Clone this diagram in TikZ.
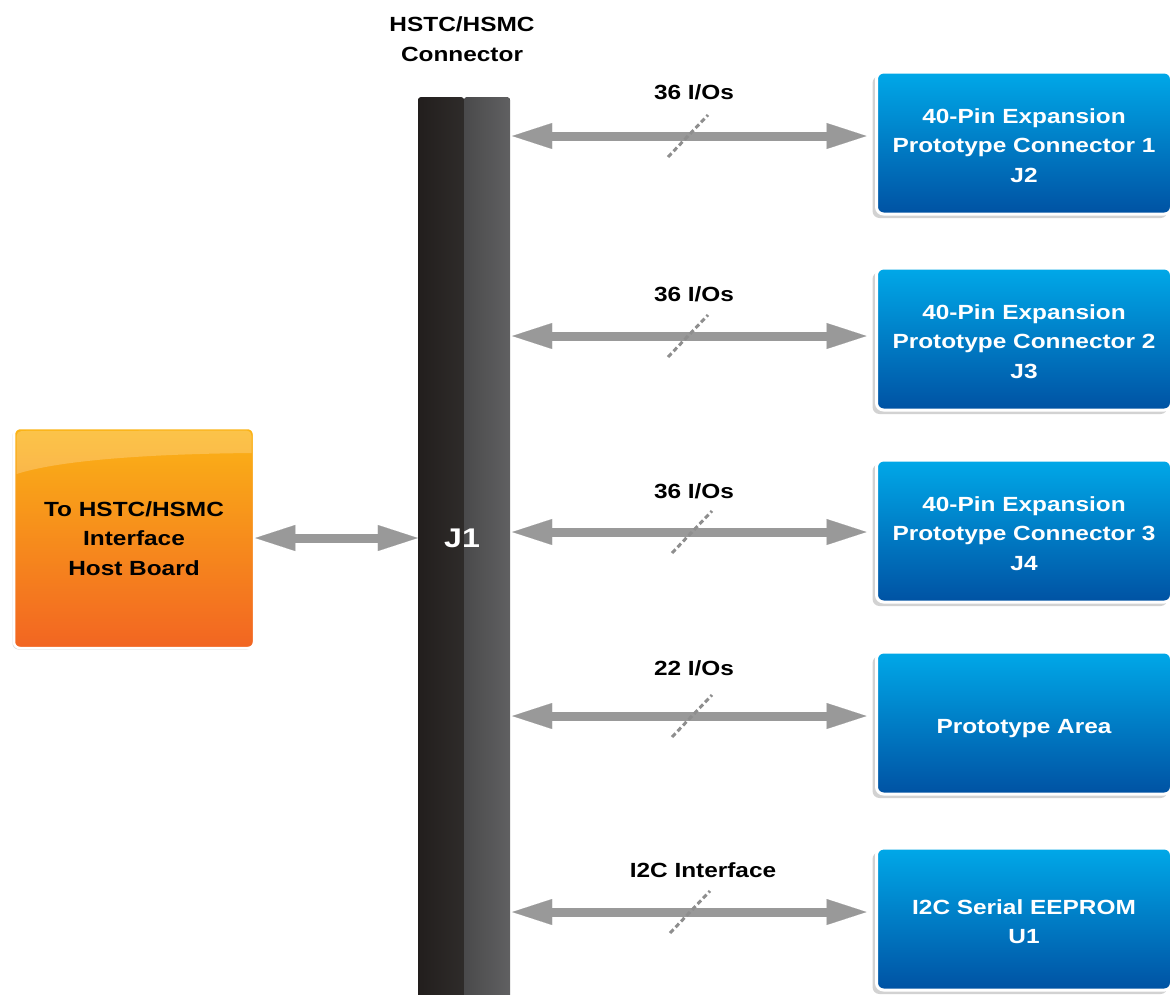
\documentclass[tikz,border=0pt]{standalone}
\usepackage{fontspec}
\setmainfont{Liberation Sans}[FakeStretch=1.19]
\usetikzlibrary{arrows.meta,shadows,calc}
\definecolor{arrowgrey}{HTML}{999999}
\definecolor{slashgrey}{HTML}{8E8E8E}
\definecolor{bluetop}{HTML}{00A8E8}
\definecolor{bluebot}{HTML}{0052A3}
\definecolor{orangetop}{HTML}{FBB416}
\definecolor{orangebot}{HTML}{F26522}
\definecolor{jA}{HTML}{221E1D}
\definecolor{jB}{HTML}{3B3937}
\definecolor{jC}{HTML}{4A4A4B}
\definecolor{jD}{HTML}{606062}
\newcommand{\lowtext}[2]{\raisebox{-#1}[\height][\depth]{\begin{tabular}{@{}c@{}}#2\end{tabular}}}
\tikzset{
  lbl/.style={font=\bfseries\fontsize{20.5}{30}\selectfont, text=black, align=center, inner sep=0pt},
  bluebox/.style={rectangle, rounded corners=7pt, draw=white, line width=3pt,
    top color=bluetop, bottom color=bluebot, minimum width=295pt, minimum height=142pt,
    text=white, font=\bfseries\fontsize{20.5}{29.5}\selectfont,
    drop shadow={shadow xshift=-4pt, shadow yshift=-4pt, opacity=0.25, fill=black!70}},
  hostbox/.style={rectangle, rounded corners=6pt, draw=white, line width=2.5pt,
    top color=orangetop, bottom color=orangebot, minimum width=240pt, minimum height=220pt,
    text=black, font=\bfseries\fontsize{20.5}{29.5}\selectfont,
    drop shadow={shadow xshift=-1.5pt, shadow yshift=-1.5pt, opacity=0.2, fill=black!70}},
  biarrow/.style={draw=arrowgrey, line width=9pt,
    {Triangle[length=40pt,width=26pt,line width=0.1pt,fill=arrowgrey]}-{Triangle[length=40pt,width=26pt,line width=0.1pt,fill=arrowgrey]}},
  slash/.style={draw=slashgrey, line width=3pt, dash pattern=on 5pt off 3pt},
}
\begin{document}
\begin{tikzpicture}[x=1pt,y=-1pt]
\useasboundingbox (0,0) rectangle (1172,994);
\begin{scope}
\clip (0,0) rectangle (1172,994);
% J1 bar
\node[rectangle, anchor=north, minimum width=92pt, minimum height=915pt, inner sep=0pt, rounded corners=3pt,
  path picture={
    \fill[left color=jA, right color=jB] (path picture bounding box.south west) rectangle (path picture bounding box.north);
    \fill[left color=jC, right color=jD] (path picture bounding box.south) rectangle (path picture bounding box.north east);
  }] (J1) at (464,97) {};
\node[font=\bfseries\fontsize{27}{30}\selectfont, text=white] (J1text) at (462,538) {J1};
\node[lbl] (hdr) at (462,39) {HSTC/HSMC\\Connector};

% host box
\node[hostbox] (host) at (134,538) {\lowtext{2pt}{To HSTC/HSMC\\Interface\\Host Board}};
\fill[white, opacity=0.22] (16.5,474) -- (16.5,436) arc[start angle=180, end angle=270, radius=5] -- (246.5,430.5)
  arc[start angle=270, end angle=360, radius=5] -- (251.5,453) .. controls (150,454) and (60,460) .. (16.5,474);

% blue boxes
\node[bluebox] (b1) at (1024,143) {\lowtext{4pt}{40-Pin Expansion\\Prototype Connector 1\\J2}};
\node[bluebox] (b2) at (1024,339) {\lowtext{4pt}{40-Pin Expansion\\Prototype Connector 2\\J3}};
\node[bluebox] (b3) at (1024,531) {\lowtext{4pt}{40-Pin Expansion\\Prototype Connector 3\\J4}};
\node[bluebox] (b4) at (1024,723) {\lowtext{5pt}{Prototype Area}};
\node[bluebox] (b5) at (1024,919) {\lowtext{4pt}{I2C Serial EEPROM\\U1}};

% arrow rows
\coordinate (a1) at (0,136);
\coordinate (a2) at (0,336);
\coordinate (a3) at (0,532);
\coordinate (a4) at (0,716);
\coordinate (a5) at (0,912);

\draw[biarrow] (host.east) -- (J1.west |- host.east);
\foreach \i in {1,...,5}{
  \draw[biarrow, shorten <=2pt, shorten >=8.5pt] (J1.east |- a\i) -- (b\i.west |- a\i);
}
% slashes
\coordinate (s1) at (688,136);
\coordinate (s2) at (688,336);
\coordinate (s3) at (692,532);
\coordinate (s4) at (692,716);
\coordinate (s5) at (690,912);
\foreach \i in {1,...,5}{
  \draw[slash] ($(s\i)+(-20,21)$) -- ($(s\i)+(20,-21)$);
}
% labels
\node[lbl] (l1) at (694,92) {36 I/Os};
\node[lbl] (l2) at (694,294) {36 I/Os};
\node[lbl] (l3) at (694,491) {36 I/Os};
\node[lbl] (l4) at (694,668) {22 I/Os};
\node[lbl] (l5) at (703,870) {I2C Interface};
\end{scope}
\end{tikzpicture}
\end{document}
